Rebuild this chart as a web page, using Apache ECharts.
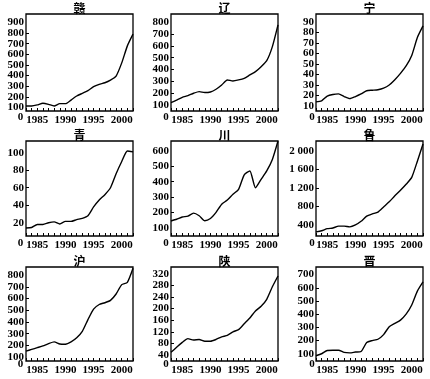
<!DOCTYPE html>
<html><head><meta charset="utf-8">
<script src="https://cdn.jsdelivr.net/npm/echarts@6/dist/echarts.min.js"></script>
<style>html,body{margin:0;padding:0;background:#fff}#c{width:430px;height:379px}</style>
</head><body><div id="c"></div>
<script>
const years = [1983,1984,1985,1986,1987,1988,1989,1990,1991,1992,1993,1994,1995,1996,1997,1998,1999,2000,2001,2002];

const gan   = [114,114,124,140,130,114,136,136,170,208,233,258,296,318,333,358,396,520,680,790];
const liao  = [119,142,165,179,199,213,205,210,233,269,312,303,312,326,354,382,424,475,594,778];
const ning  = [14,15,19.5,21,21.5,19,17,19,21.5,24.5,25,25.5,27,30,35,41,48,58,75,86];
const qing  = [14,14.5,18,18,20,21,18.5,21.5,21.5,23.5,25,28,38,46,52,60,76,90,102,101];
const chuan = [144,155,170,175,195,178,145,160,200,253,280,318,350,445,470,360,415,470,545,665];
const lu    = [250,275,320,335,375,375,360,400,480,590,640,680,790,900,1030,1150,1280,1430,1780,2150];
const hu    = [150,165,180,195,215,230,212,210,230,265,320,420,510,550,565,585,640,720,740,860];
const shaan = [50,67,84,97,92,94,88,88,94,103,108,120,128,148,168,192,208,232,275,312];
const jin   = [85,100,125,127,127,110,107,113,117,185,200,210,245,305,330,355,400,470,575,645];

const ganTicks   = [100,200,300,400,500,600,700,800,900];
const liaoTicks  = [100,200,300,400,500,600,700,800];
const ningTicks  = [10,20,30,40,50,60,70,80,90];
const qingTicks  = [20,40,60,80,100];
const chuanTicks = [100,200,300,400,500,600];
const luTicks    = [400,800,1200,1600,2000];
const huTicks    = [100,200,300,400,500,600,700,800];
const shaanTicks = [40,80,120,160,200,240,280,320];
const jinTicks   = [100,200,300,400,500,600,700];
const yearLabels = [1985,1990,1995,2000];

const names = ['赣','辽','宁','青','川','鲁','沪','陕','晋'];
const seriesData = [gan, liao, ning, qing, chuan, lu, hu, shaan, jin];
const tickSets = [ganTicks, liaoTicks, ningTicks, qingTicks, chuanTicks, luTicks, huTicks, shaanTicks, jinTicks];
const ranges = [[67,980],[49,870],[5.3,97.3],[4.8,113.4],[46,665],[162,2216],[66,871],[20,343],[45,758]];

const colLeft = [26,171,316], colW = 107;
const rowTop = [14,141,267], rowH = [97,95,94];
const titleY = [2,129,255];
const zeroX = [20.5,166,312], zeroY = [117,243,364];
const FONT = "'Liberation Serif','Times New Roman',serif";

const fmt = v => v >= 1000 ? String(v).replace(/(\d)(\d{3})$/, '$1 $2') : String(v);
// pad first/last so the library's min/max-label overlap check only drops a duplicate
const padEnds = t => [t[0]].concat(t, [t[t.length - 1]]);

const grid = [], xAxis = [], yAxis = [], series = [], title = [], graphic = [];
for (let i = 0; i < 9; i++) {
  const r = Math.floor(i / 3), c = i % 3;
  grid.push({left: colLeft[c], top: rowTop[r], width: colW, height: rowH[r],
    show: true, borderColor: '#000', borderWidth: 1.3, backgroundColor: 'transparent',
    containLabel: false, outerBoundsMode: 'none'});
  xAxis.push({type: 'category', gridIndex: i, data: years, boundaryGap: false,
    axisLine: {show: false},
    axisTick: {show: true, inside: true, length: 3, interval: 0, lineStyle: {color: '#000', width: 1}},
    axisLabel: {interval: (idx, val) => yearLabels.indexOf(Number(val)) >= 0,
      color: '#000', fontFamily: FONT, fontSize: 11, fontWeight: 'bold', margin: 4},
    splitLine: {show: false}});
  yAxis.push({type: 'value', gridIndex: i, min: ranges[i][0], max: ranges[i][1],
    axisLine: {show: false},
    axisTick: {show: true, inside: true, length: 3, customValues: tickSets[i], lineStyle: {color: '#000', width: 1}},
    axisLabel: {customValues: padEnds(tickSets[i]), formatter: fmt, showMinLabel: true, showMaxLabel: true,
      color: '#000', fontFamily: FONT, fontSize: 11, fontWeight: 'bold', margin: 2},
    splitLine: {show: false}});
  series.push({type: 'line', xAxisIndex: i, yAxisIndex: i, data: seriesData[i],
    showSymbol: false, smooth: 0.2, lineStyle: {color: '#000', width: 1.4}, silent: true, animation: false});
  title.push({text: names[i], left: colLeft[c] + colW / 2, top: titleY[r], textAlign: 'center', padding: 0,
    textStyle: {fontFamily: "'Noto Sans CJK SC'", fontSize: 12, fontWeight: 'bold', color: '#000'}});
  graphic.push({type: 'text', x: zeroX[c], y: zeroY[r],
    style: {text: '0', fill: '#000', font: 'bold 11px ' + FONT, textAlign: 'center', textVerticalAlign: 'middle'}});
}

const chart = echarts.init(document.getElementById('c'), null, {renderer: 'canvas'});
chart.setOption({backgroundColor: '#fff', animation: false, title, grid, xAxis, yAxis, series, graphic});
</script></body></html>
